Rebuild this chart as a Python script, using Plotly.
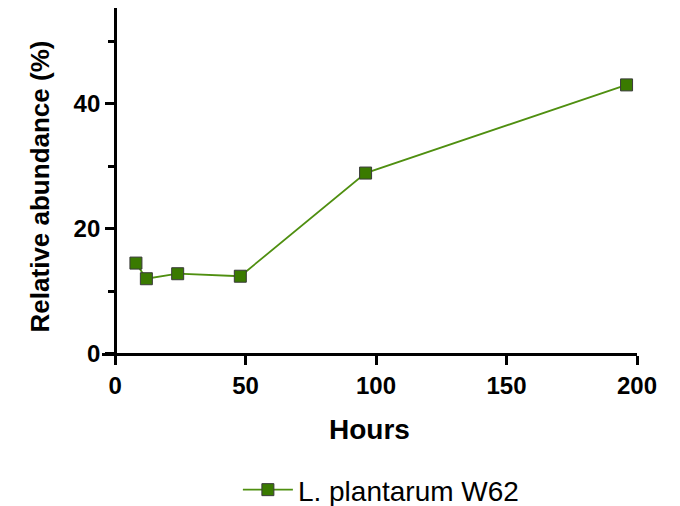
import plotly.graph_objects as go

hours = [8, 12, 24, 48, 96, 196]
abundance = [14.5, 12.0, 12.8, 12.4, 28.9, 43.0]
series_name = "L. plantarum W62"

xmin, xmax = -5, 200
ymin, ymax = -1.8, 55.3

fig = go.Figure()
fig.add_trace(go.Scatter(
    x=hours, y=abundance, mode="lines+markers", name=series_name,
    line=dict(color="#4f8f10", width=1.8),
    marker=dict(symbol="square", size=12, color="#3a7a00",
                line=dict(color="#3a3a3a", width=1)),
))

font_family = "Liberation Sans, Arial, sans-serif"
# page body adds an 8px offset; margins compensate
fig.update_layout(
    width=680, height=506,
    margin=dict(l=94, r=51, t=0, b=149, autoexpand=False),
    plot_bgcolor="white", paper_bgcolor="white",
    font=dict(family=font_family, color="black"),
    showlegend=True,
    legend=dict(orientation="h", x=0.254, xanchor="left", y=-0.35, yanchor="middle",
                itemwidth=50,
                font=dict(size=28, family=font_family, color="black")),
    xaxis=dict(
        range=[xmin, xmax], showgrid=False, zeroline=False, automargin=False,
        showline=True, linecolor="black", linewidth=3,
        anchor="free", position=(0 - ymin) / (ymax - ymin),
        tickmode="array", tickvals=[0, 50, 100, 150, 200],
        ticks="outside", ticklen=9, tickwidth=3, tickcolor="black",
        tickfont=dict(size=24, family=font_family, color="black", weight="bold"),
        title=dict(text="<b>Hours</b>", font=dict(size=28, family=font_family, color="black"), standoff=21),
    ),
    yaxis=dict(
        range=[ymin, ymax], showgrid=False, zeroline=False, automargin=False,
        showline=True, linecolor="black", linewidth=3,
        anchor="free", position=(0 - xmin) / (xmax - xmin),
        tickmode="array", tickvals=[0, 20, 40],
        ticks="outside", ticklen=9, tickwidth=3, tickcolor="black",
        minor=dict(tickmode="array", tickvals=[10, 30, 50], ticks="outside", ticklen=6, tickwidth=3, tickcolor="black"),
        tickfont=dict(size=24, family=font_family, color="black", weight="bold"),
        title=dict(text="<b>Relative abundance (%)</b>", font=dict(size=26, family=font_family, color="black"), standoff=15),
    ),
)

fig.write_html("out.html")
